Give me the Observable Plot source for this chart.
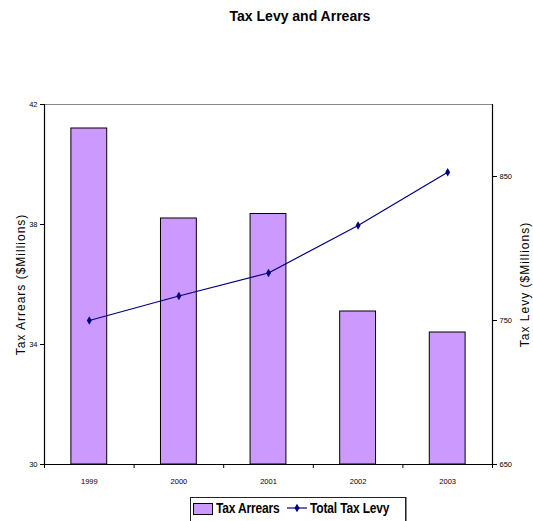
<!DOCTYPE html>
<html>
<head>
<meta charset="utf-8">
<script src="https://cdn.jsdelivr.net/npm/d3@7"></script>
<script src="https://cdn.jsdelivr.net/npm/@observablehq/plot@0.6"></script>
<style>
  html, body { margin: 0; padding: 0; background: #fff; }
  body { width: 533px; height: 521px; position: relative; overflow: hidden; }
  #title { position: absolute; top: 8px; left: 0; width: 600px; text-align: center;
           font: bold 14px "Liberation Sans", Arial, sans-serif; color: #000; }
  #chart { position: absolute; top: 40px; left: 0; }
  #legend { position: absolute; top: 497px; left: 190px; width: 216px; height: 30px;
            border: 1px solid #222; box-shadow: 1px 0 0 #888; background: #fff;
            font: bold 15px "Liberation Sans", Arial, sans-serif; letter-spacing: -0.2px; color: #000;
            white-space: nowrap; display: flex; align-items: flex-start; padding-top: 1px; box-sizing: border-box; }
  #legend .sw { display: inline-block; flex: none; width: 18px; height: 10px; background: #CC99FF;
                border: 1px solid #000; margin: 4px 3px 0 2px; }
  #legend .t { display: inline-block; transform: scaleX(0.8); transform-origin: left center; }
  #legend .t1 { width: 69px; }
  #legend svg { flex: none; margin: 1px 3px 0 2px; }
  g[aria-label="y-axis label"] text { font-size: 12px; letter-spacing: 1px; }
</style>
</head>
<body>
<div id="title">Tax Levy and Arrears</div>
<div id="chart"></div>
<div id="legend"><span class="sw"></span><span class="t t1">Tax Arrears</span><svg id="lsym" width="20" height="16"></svg><span class="t">Total Tax Levy</span></div>
<script>
const years = [1999, 2000, 2001, 2002, 2003];
const arrears = [41.2, 38.2, 38.35, 35.1, 34.4];
const levy = [750, 767, 783, 816, 853];
const arrearsTicks = [30, 34, 38, 42];
const levyTicks = [650, 750, 850];
const arrearsDomain = [30, 42];
const levyDomain = [650, 900];

const barColor = "#CC99FF";
const lineColor = "#000080";

const levyToY = d3.scaleLinear(levyDomain, arrearsDomain);
const data = years.map((year, i) => ({year, arrears: arrears[i], levy: levy[i], levyY: levyToY(levy[i])}));
const xDomain = [years[0] - 0.5, years[years.length - 1] + 0.5];
const boundaries = d3.range(years.length + 1).map(i => xDomain[0] + i);
const half = 0.2;

const chart = Plot.plot({
  width: 533,
  height: 450,
  marginTop: 64,
  marginBottom: 26,
  marginLeft: 44,
  marginRight: 41,
  x: {domain: xDomain},
  y: {domain: arrearsDomain},
  style: {fontFamily: "'Liberation Sans', sans-serif", fontSize: "7.5px", color: "#000", background: "#fff", overflow: "visible"},
  marks: [
    Plot.rectY(data, {x1: d => d.year - half, x2: d => d.year + half, y1: arrearsDomain[0], y2: "arrears", fill: barColor, stroke: "#000", strokeWidth: 1}),
    Plot.ruleY([arrearsDomain[1]], {stroke: "#888", strokeWidth: 1}),
    Plot.ruleY([arrearsDomain[0]], {stroke: "#000", strokeWidth: 1.2}),
    Plot.ruleX([xDomain[0]], {stroke: "#000", strokeWidth: 1.2}),
    Plot.ruleX([xDomain[1]], {stroke: "#000", strokeWidth: 1.2}),
    Plot.line(data, {x: "year", y: "levyY", stroke: lineColor, strokeWidth: 1.2}),
    Plot.dot(data, {x: "year", y: "levyY", symbol: "diamond", r: 2.6, fill: lineColor, stroke: "none"}),
    Plot.axisY({ticks: arrearsTicks, tickSize: 4, tickPadding: 3, label: "Tax Arrears ($Millions)", labelAnchor: "center", labelOffset: 28, labelArrow: "none"}),
    Plot.axisY({anchor: "right", ticks: levyTicks.map(levyToY), tickFormat: d => String(Math.round(levyToY.invert(d))), tickSize: 4, tickPadding: 3, label: "Tax Levy ($Millions)", labelAnchor: "center", labelOffset: 36, labelArrow: "none"}),
    Plot.axisX({ticks: boundaries, tickFormat: () => "", tickSize: 4, label: null}),
    Plot.axisX({ticks: years, tickFormat: d => String(d), tickSize: 0, tickPadding: 14, label: null})
  ]
});
document.getElementById("chart").append(chart);

// legend line symbol
const ls = d3.select("#lsym");
ls.append("line").attr("x1", 0).attr("x2", 20).attr("y1", 8).attr("y2", 8).attr("stroke", lineColor).attr("stroke-width", 1.2);
ls.append("path").attr("d", d3.symbol(d3.symbolDiamond, 22)()).attr("transform", "translate(10,8)").attr("fill", lineColor);
</script>
</body>
</html>
